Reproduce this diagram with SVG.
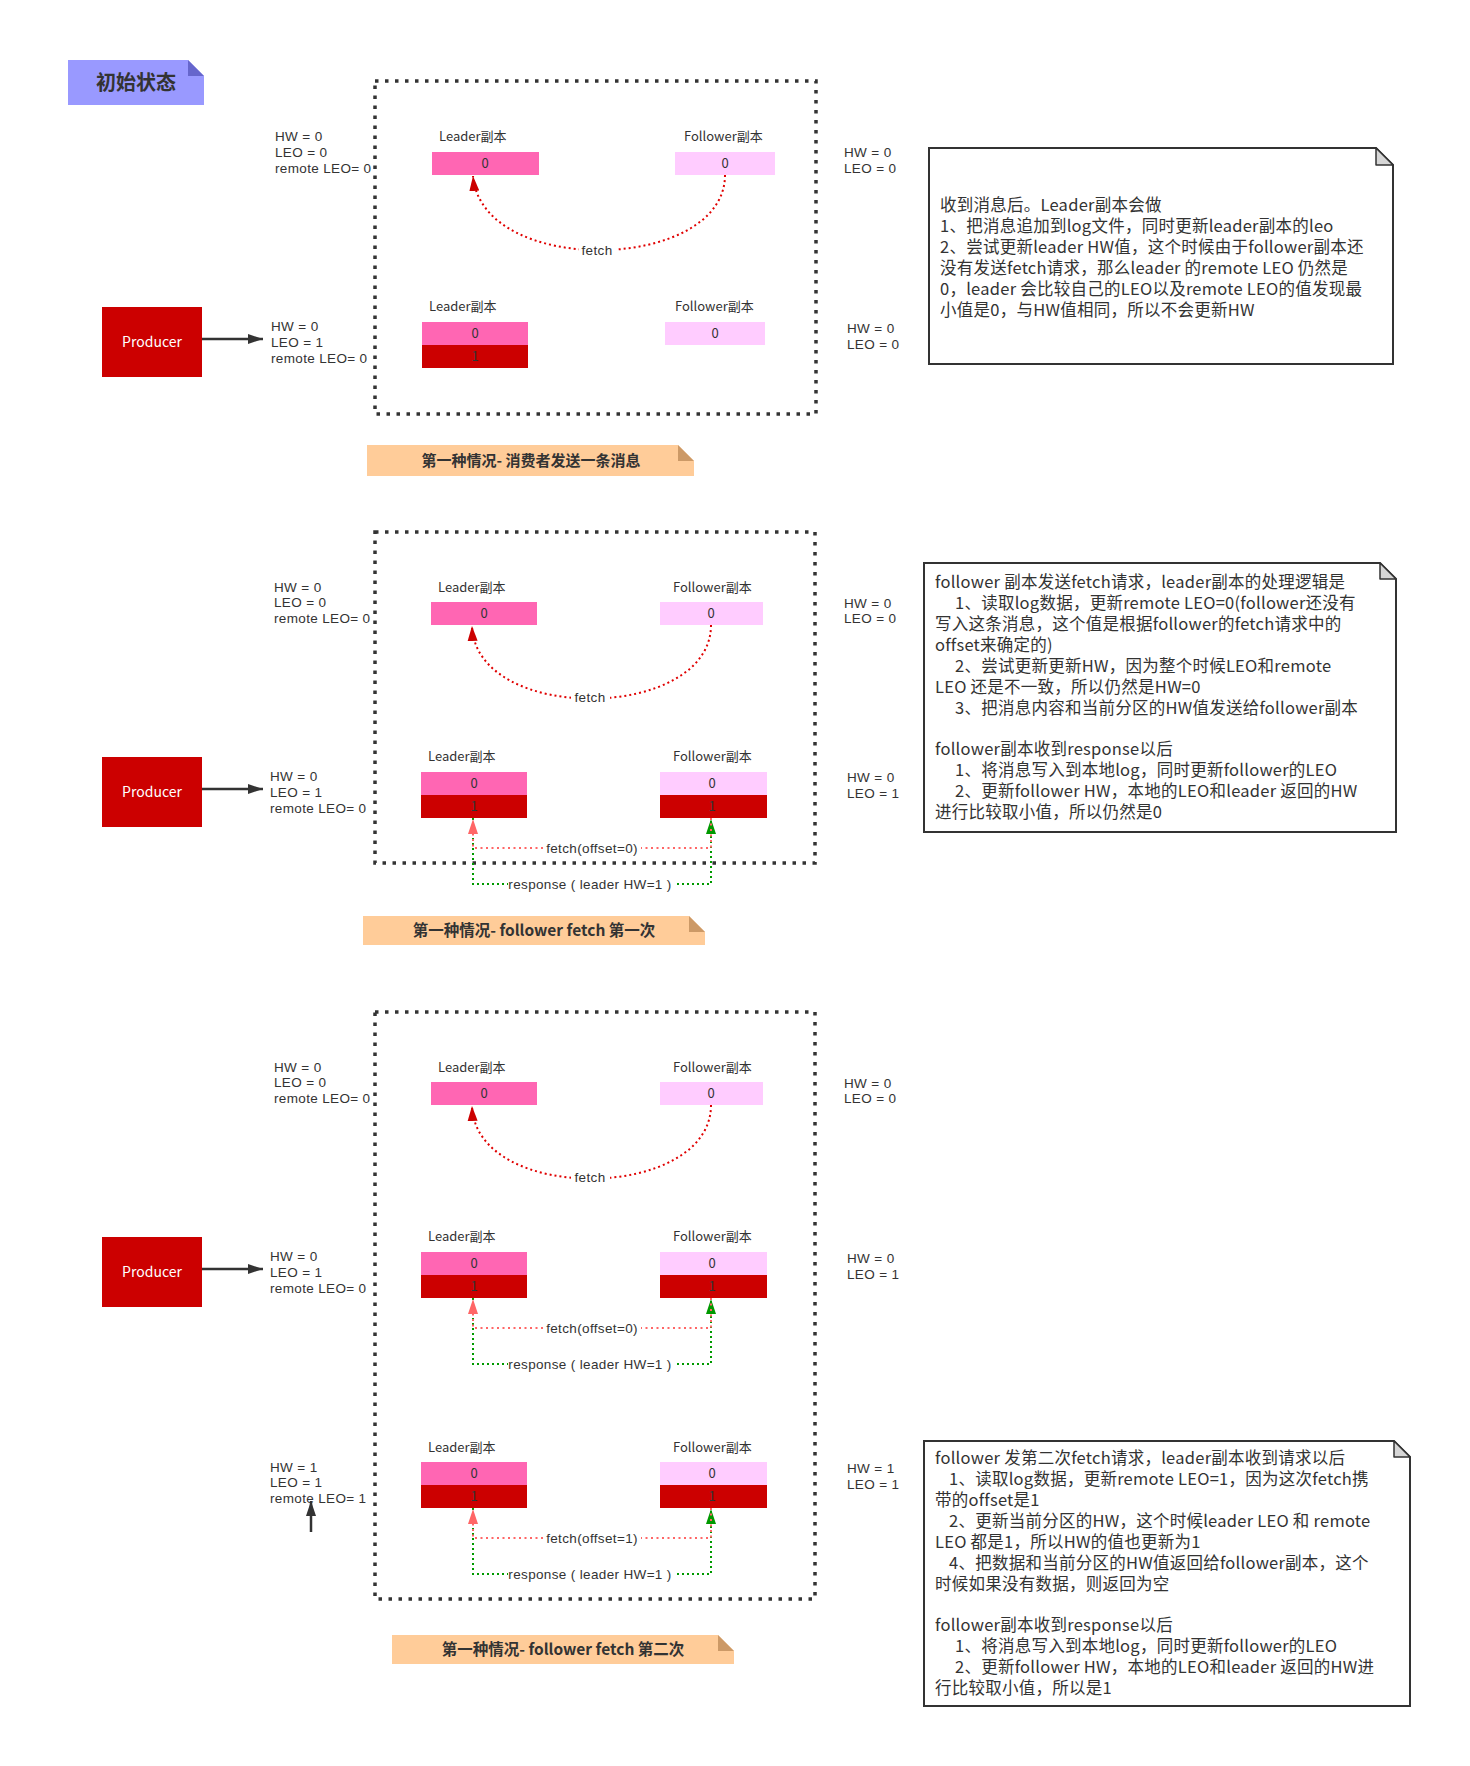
<svg xmlns="http://www.w3.org/2000/svg" width="1470" height="1766" viewBox="0 0 1470 1766">
<style>
text{font-family:"Noto Sans CJK SC","Noto Sans",sans-serif;fill:#333}
.s{font-size:13px}
.m{font-family:"Liberation Sans",Arial,sans-serif;font-size:13.5px;letter-spacing:0.35px}
.c{text-anchor:middle}
.n{font-size:16.5px;letter-spacing:0.25px}
.b{font-weight:bold}
.w{fill:#fff}
.bg{fill:#fff}
.frame{fill:none;stroke:#333;stroke-width:3.5;stroke-dasharray:3.5 6.5}
.lp{fill:#FF66B3}.fp{fill:#FFCCFF}.rd{fill:#CC0000}
.note{fill:#fff;stroke:#333;stroke-width:2}
.nf{fill:#D6D6D6;stroke:#333;stroke-width:1.5;stroke-linejoin:round}
.cap{fill:#FFCC99}.capf{fill:#CC9966}
.arc{fill:none;stroke:#E00000;stroke-width:2;stroke-dasharray:2 3}
.req{fill:none;stroke:#FF6666;stroke-width:2;stroke-dasharray:2 3.5}
.rsp{fill:none;stroke:#009900;stroke-width:2;stroke-dasharray:2 3}
.blk{fill:none;stroke:#333;stroke-width:2.5}
</style>
<defs>
<marker id="mB" markerUnits="userSpaceOnUse" markerWidth="16" markerHeight="12" refX="15" refY="6" orient="auto"><path d="M0,1 L15,6 L0,11 Z" fill="#333"/></marker>
<marker id="mR" markerUnits="userSpaceOnUse" markerWidth="16" markerHeight="12" refX="15" refY="6" orient="auto"><path d="M0,1 L15,6 L0,11 Z" fill="#CC0000"/></marker>
<marker id="mP" markerUnits="userSpaceOnUse" markerWidth="16" markerHeight="12" refX="15" refY="6" orient="auto"><path d="M0,1 L15,6 L0,11 Z" fill="#FF6666"/></marker>
<marker id="mG" markerUnits="userSpaceOnUse" markerWidth="16" markerHeight="12" refX="15" refY="6" orient="auto"><path d="M0,1 L15,6 L0,11 Z" fill="#009900"/></marker>
</defs>
<rect width="1470" height="1766" fill="#fff"/>

<!-- title label -->
<g id="label-init">
<path d="M68,60 H188 L204,76 V105 H68 Z" fill="#9999FF"/>
<path d="M188,60 L204,76 H188 Z" fill="#6666CC"/>
<text x="136" y="90" class="c b" font-size="20">初始状态</text>
</g>

<!-- frames -->
<g id="frames">
<rect x="375" y="81" width="441" height="333" class="frame"/>
<rect x="375" y="532" width="440" height="331" class="frame"/>
<rect x="375" y="1012" width="440" height="587" class="frame"/>
</g>

<!-- connectors -->
<g id="connectors">
<path d="M202,339 H263" class="blk" marker-end="url(#mB)"/>
<path d="M202,789 H263" class="blk" marker-end="url(#mB)"/>
<path d="M202,1269 H263" class="blk" marker-end="url(#mB)"/>
<path d="M311,1532 V1501" class="blk" marker-end="url(#mB)"/>
<path d="M725,175 C725,272 482,278 473,176" class="arc" marker-end="url(#mR)"/>
<path d="M711,625 C711,721 476,725 472,626" class="arc" marker-end="url(#mR)"/>
<path d="M711,1105 C711,1201 476,1205 472,1106" class="arc" marker-end="url(#mR)"/>
<path d="M473,818 V884 H711 V819" class="rsp" marker-end="url(#mG)"/>
<path d="M711,818 V848 H473 V819" class="req" marker-end="url(#mP)"/>
<path d="M473,1298 V1364 H711 V1299" class="rsp" marker-end="url(#mG)"/>
<path d="M711,1298 V1328 H473 V1299" class="req" marker-end="url(#mP)"/>
<path d="M473,1508 V1574 H711 V1509" class="rsp" marker-end="url(#mG)"/>
<path d="M711,1508 V1538 H473 V1509" class="req" marker-end="url(#mP)"/>
<rect x="579" y="243" width="37" height="15" class="bg"/>
<rect x="571" y="690" width="39" height="15" class="bg"/>
<rect x="571" y="1170" width="39" height="15" class="bg"/>
<rect x="543" y="841" width="98" height="15" class="bg"/>
<rect x="508" y="877" width="168" height="15" class="bg"/>
<rect x="543" y="1321" width="98" height="15" class="bg"/>
<rect x="508" y="1357" width="168" height="15" class="bg"/>
<rect x="543" y="1531" width="98" height="15" class="bg"/>
<rect x="508" y="1567" width="168" height="15" class="bg"/>
<text x="597" y="255" class="m c">fetch</text>
<text x="590" y="702" class="m c">fetch</text>
<text x="590" y="1182" class="m c">fetch</text>
<text x="592" y="853" class="m c">fetch(offset=0)</text>
<text x="590" y="889" class="m c">response ( leader HW=1 )</text>
<text x="592" y="1333" class="m c">fetch(offset=0)</text>
<text x="590" y="1369" class="m c">response ( leader HW=1 )</text>
<text x="592" y="1543" class="m c">fetch(offset=1)</text>
<text x="590" y="1579" class="m c">response ( leader HW=1 )</text>
</g>

<!-- ===== Section 1 ===== -->
<g id="s1-producer">
<rect x="102" y="307" width="100" height="70" class="rd"/>
<text x="152" y="347" class="c w" font-size="14">Producer</text>
</g>
<g id="s1-leader-top">
<text x="439" y="141" class="s">Leader副本</text>
<rect x="432" y="152" width="107" height="23" class="lp"/>
<text x="485" y="168" class="s c">0</text>
</g>
<g id="s1-follower-top">
<text x="684" y="141" class="s">Follower副本</text>
<rect x="675" y="152" width="100" height="23" class="fp"/>
<text x="725" y="168" class="s c">0</text>
</g>
<g id="s1-leader-bottom">
<text x="429" y="311" class="s">Leader副本</text>
<rect x="422" y="322" width="106" height="23" class="lp"/>
<rect x="422" y="345" width="106" height="23" class="rd"/>
<text x="475" y="338" class="s c">0</text>
<text x="475" y="361" class="s c">1</text>
</g>
<g id="s1-follower-bottom">
<text x="675" y="311" class="s">Follower副本</text>
<rect x="665" y="322" width="100" height="23" class="fp"/>
<text x="715" y="338" class="s c">0</text>
</g>
<g id="s1-stats">
<text class="m"><tspan x="275" y="141">HW = 0</tspan><tspan x="275" y="157">LEO = 0</tspan><tspan x="275" y="173">remote LEO= 0</tspan></text>
<text class="m"><tspan x="271" y="331">HW = 0</tspan><tspan x="271" y="347">LEO = 1</tspan><tspan x="271" y="363">remote LEO= 0</tspan></text>
<text class="m"><tspan x="844" y="157">HW = 0</tspan><tspan x="844" y="173">LEO = 0</tspan></text>
<text class="m"><tspan x="847" y="333">HW = 0</tspan><tspan x="847" y="349">LEO = 0</tspan></text>
</g>
<g id="s1-caption">
<path d="M367,445 H678 L694,461 V476 H367 Z" class="cap"/>
<path d="M678,445 L694,461 H678 Z" class="capf"/>
<text x="531" y="466" class="c b" font-size="15">第一种情况- 消费者发送一条消息</text>
</g>
<g id="s1-note">
<path d="M929,148 H1376 L1393,165 V364 H929 Z" class="note"/>
<path d="M1376,148 L1393,165 H1376 Z" class="nf"/>
<text class="n"><tspan x="940" y="211">收到消息后。Leader副本会做</tspan><tspan x="940" y="232">1、把消息追加到log文件，同时更新leader副本的leo</tspan><tspan x="940" y="253">2、尝试更新leader HW值，这个时候由于follower副本还</tspan><tspan x="940" y="274">没有发送fetch请求，那么leader 的remote LEO 仍然是</tspan><tspan x="940" y="295">0，leader 会比较自己的LEO以及remote LEO的值发现最</tspan><tspan x="940" y="316">小值是0，与HW值相同，所以不会更新HW</tspan></text>
</g>

<!-- ===== Section 2 ===== -->
<g id="s2-producer">
<rect x="102" y="757" width="100" height="70" class="rd"/>
<text x="152" y="797" class="c w" font-size="14">Producer</text>
</g>
<g id="s2-leader-top">
<text x="438" y="592" class="s">Leader副本</text>
<rect x="431" y="602" width="106" height="23" class="lp"/>
<text x="484" y="618" class="s c">0</text>
</g>
<g id="s2-follower-top">
<text x="673" y="592" class="s">Follower副本</text>
<rect x="660" y="602" width="103" height="23" class="fp"/>
<text x="711" y="618" class="s c">0</text>
</g>
<g id="s2-leader-bottom">
<text x="428" y="761" class="s">Leader副本</text>
<rect x="421" y="772" width="106" height="23" class="lp"/>
<rect x="421" y="795" width="106" height="23" class="rd"/>
<text x="474" y="788" class="s c">0</text>
<text x="474" y="811" class="s c">1</text>
</g>
<g id="s2-follower-bottom">
<text x="673" y="761" class="s">Follower副本</text>
<rect x="660" y="772" width="107" height="23" class="fp"/>
<rect x="660" y="795" width="107" height="23" class="rd"/>
<text x="712" y="788" class="s c">0</text>
<text x="712" y="811" class="s c">1</text>
</g>
<g id="s2-stats">
<text class="m"><tspan x="274" y="592">HW = 0</tspan><tspan x="274" y="607">LEO = 0</tspan><tspan x="274" y="623">remote LEO= 0</tspan></text>
<text class="m"><tspan x="270" y="781">HW = 0</tspan><tspan x="270" y="797">LEO = 1</tspan><tspan x="270" y="813">remote LEO= 0</tspan></text>
<text class="m"><tspan x="844" y="608">HW = 0</tspan><tspan x="844" y="623">LEO = 0</tspan></text>
<text class="m"><tspan x="847" y="782">HW = 0</tspan><tspan x="847" y="798">LEO = 1</tspan></text>
</g>
<g id="s2-caption">
<path d="M363,916 H689 L705,932 V945 H363 Z" class="cap"/>
<path d="M689,916 L705,932 H689 Z" class="capf"/>
<text x="534" y="936" class="c b" font-size="15.5">第一种情况- follower fetch 第一次</text>
</g>
<g id="s2-note">
<path d="M924,563 H1380 L1396,579 V832 H924 Z" class="note"/>
<path d="M1380,563 L1396,579 H1380 Z" class="nf"/>
<text class="n"><tspan x="935" y="588">follower 副本发送fetch请求，leader副本的处理逻辑是</tspan><tspan x="955" y="609">1、读取log数据，更新remote LEO=0(follower还没有</tspan><tspan x="935" y="630">写入这条消息，这个值是根据follower的fetch请求中的</tspan><tspan x="935" y="651">offset来确定的)</tspan><tspan x="955" y="672">2、尝试更新更新HW，因为整个时候LEO和remote</tspan><tspan x="935" y="693">LEO 还是不一致，所以仍然是HW=0</tspan><tspan x="955" y="714">3、把消息内容和当前分区的HW值发送给follower副本</tspan><tspan x="935" y="755">follower副本收到response以后</tspan><tspan x="955" y="776">1、将消息写入到本地log，同时更新follower的LEO</tspan><tspan x="955" y="797">2、更新follower HW，本地的LEO和leader 返回的HW</tspan><tspan x="935" y="818">进行比较取小值，所以仍然是0</tspan></text>
</g>

<!-- ===== Section 3 ===== -->
<g id="s3-producer">
<rect x="102" y="1237" width="100" height="70" class="rd"/>
<text x="152" y="1277" class="c w" font-size="14">Producer</text>
</g>
<g id="s3-leader-top">
<text x="438" y="1072" class="s">Leader副本</text>
<rect x="431" y="1082" width="106" height="23" class="lp"/>
<text x="484" y="1098" class="s c">0</text>
</g>
<g id="s3-follower-top">
<text x="673" y="1072" class="s">Follower副本</text>
<rect x="660" y="1082" width="103" height="23" class="fp"/>
<text x="711" y="1098" class="s c">0</text>
</g>
<g id="s3-leader-mid">
<text x="428" y="1241" class="s">Leader副本</text>
<rect x="421" y="1252" width="106" height="23" class="lp"/>
<rect x="421" y="1275" width="106" height="23" class="rd"/>
<text x="474" y="1268" class="s c">0</text>
<text x="474" y="1291" class="s c">1</text>
</g>
<g id="s3-follower-mid">
<text x="673" y="1241" class="s">Follower副本</text>
<rect x="660" y="1252" width="107" height="23" class="fp"/>
<rect x="660" y="1275" width="107" height="23" class="rd"/>
<text x="712" y="1268" class="s c">0</text>
<text x="712" y="1291" class="s c">1</text>
</g>
<g id="s3-leader-bottom">
<text x="428" y="1452" class="s">Leader副本</text>
<rect x="421" y="1462" width="106" height="23" class="lp"/>
<rect x="421" y="1485" width="106" height="23" class="rd"/>
<text x="474" y="1478" class="s c">0</text>
<text x="474" y="1501" class="s c">1</text>
</g>
<g id="s3-follower-bottom">
<text x="673" y="1452" class="s">Follower副本</text>
<rect x="660" y="1462" width="107" height="23" class="fp"/>
<rect x="660" y="1485" width="107" height="23" class="rd"/>
<text x="712" y="1478" class="s c">0</text>
<text x="712" y="1501" class="s c">1</text>
</g>
<g id="s3-stats">
<text class="m"><tspan x="274" y="1072">HW = 0</tspan><tspan x="274" y="1087">LEO = 0</tspan><tspan x="274" y="1103">remote LEO= 0</tspan></text>
<text class="m"><tspan x="270" y="1261">HW = 0</tspan><tspan x="270" y="1277">LEO = 1</tspan><tspan x="270" y="1293">remote LEO= 0</tspan></text>
<text class="m"><tspan x="270" y="1472">HW = 1</tspan><tspan x="270" y="1487">LEO = 1</tspan><tspan x="270" y="1503">remote LEO= 1</tspan></text>
<text class="m"><tspan x="844" y="1088">HW = 0</tspan><tspan x="844" y="1103">LEO = 0</tspan></text>
<text class="m"><tspan x="847" y="1263">HW = 0</tspan><tspan x="847" y="1279">LEO = 1</tspan></text>
<text class="m"><tspan x="847" y="1473">HW = 1</tspan><tspan x="847" y="1489">LEO = 1</tspan></text>
</g>
<g id="s3-caption">
<path d="M392,1635 H718 L734,1651 V1664 H392 Z" class="cap"/>
<path d="M718,1635 L734,1651 H718 Z" class="capf"/>
<text x="563" y="1655" class="c b" font-size="15.5">第一种情况- follower fetch 第二次</text>
</g>
<g id="s3-note">
<path d="M924,1441 H1394 L1410,1457 V1706 H924 Z" class="note"/>
<path d="M1394,1441 L1410,1457 H1394 Z" class="nf"/>
<text class="n"><tspan x="935" y="1464">follower 发第二次fetch请求，leader副本收到请求以后</tspan><tspan x="949" y="1485">1、读取log数据，更新remote LEO=1，因为这次fetch携</tspan><tspan x="935" y="1506">带的offset是1</tspan><tspan x="949" y="1527">2、更新当前分区的HW，这个时候leader LEO 和 remote</tspan><tspan x="935" y="1548">LEO 都是1，所以HW的值也更新为1</tspan><tspan x="949" y="1569">4、把数据和当前分区的HW值返回给follower副本，这个</tspan><tspan x="935" y="1590">时候如果没有数据，则返回为空</tspan><tspan x="935" y="1631">follower副本收到response以后</tspan><tspan x="955" y="1652">1、将消息写入到本地log，同时更新follower的LEO</tspan><tspan x="955" y="1673">2、更新follower HW，本地的LEO和leader 返回的HW进</tspan><tspan x="935" y="1694">行比较取小值，所以是1</tspan></text>
</g>
</svg>
